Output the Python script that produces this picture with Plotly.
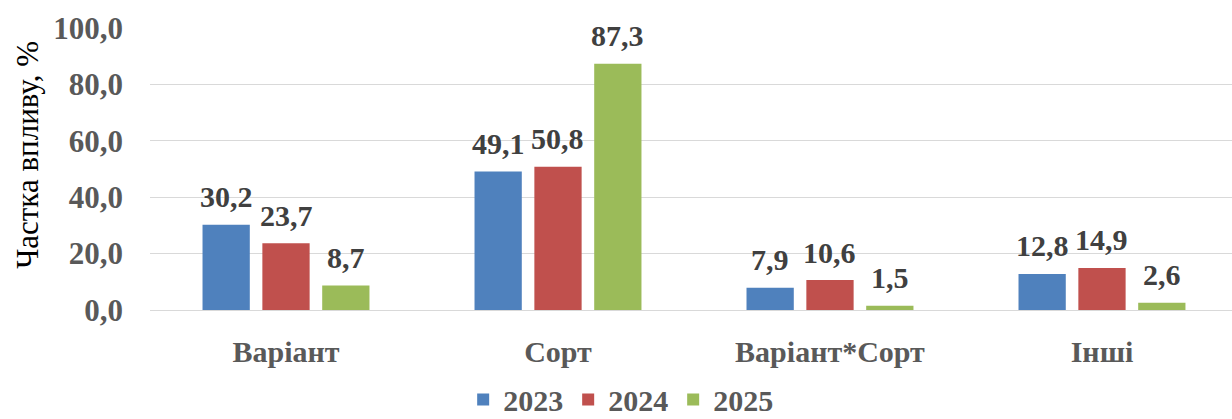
import plotly.graph_objects as go

# Частка впливу факторів за роками
categories = ["Варіант", "Сорт", "Варіант*Сорт", "Інші"]
years = ["2023", "2024", "2025"]
share_2023 = [30.2, 49.1, 7.9, 12.8]
share_2024 = [23.7, 50.8, 10.6, 14.9]
share_2025 = [8.7, 87.3, 1.5, 2.6]
y_ticks = [0, 20, 40, 60, 80, 100]

series = [share_2023, share_2024, share_2025]
colors = ["#4F81BD", "#C0504D", "#9BBB59"]

FONT = "Liberation Serif, Times New Roman, serif"
BARGAP = 0.34
x_pos = list(range(len(categories)))

fig = go.Figure()
for name, vals, col in zip(years, series, colors):
    fig.add_trace(go.Bar(
        x=x_pos, y=vals, name=name,
        marker=dict(color=col, line=dict(width=0)),
    ))

# value labels above each bar, placed at the bar's slot inside its group
slot = (1 - BARGAP) / len(series)
for i, vals in enumerate(series):
    off = (i - (len(series) - 1) / 2) * slot
    for xi, v in zip(x_pos, vals):
        fig.add_annotation(
            x=xi + off, y=v, xref="x", yref="y",
            text=f"<b>{v:.1f}</b>".replace(".", ","),
            showarrow=False, yanchor="middle", yshift=28,
            font=dict(family=FONT, size=30, color="#404040"),
        )

# vertical axis title
fig.add_annotation(
    text="Частка впливу, %", xref="paper", yref="paper",
    x=-0.1128, y=0.55, xanchor="center", yanchor="middle",
    textangle=-90, showarrow=False,
    font=dict(family=FONT, size=31, color="#000000"),
)

fig.update_layout(
    width=1232, height=419,
    margin=dict(l=150, r=0, t=28, b=109, autoexpand=False),
    paper_bgcolor="white", plot_bgcolor="white",
    barmode="group", bargap=BARGAP, bargroupgap=0.21,
    separators=", ",
    showlegend=True,
    legend=dict(
        orientation="h", xanchor="center", yanchor="middle",
        x=0.435, y=-0.317,
        font=dict(family=FONT, size=30, color="#595959", weight="bold"),
        itemwidth=30, traceorder="normal",
    ),
    xaxis=dict(
        range=[-0.5, 3.478], automargin=False,
        tickvals=x_pos, ticktext=categories,
        showgrid=False, showline=False, zeroline=False, ticks="",
        ticklabelstandoff=21,
        tickfont=dict(family=FONT, size=30, color="#595959", weight="bold"),
    ),
    yaxis=dict(
        range=[0, 100], tickvals=y_ticks, tickformat=".1f", automargin=False,
        showgrid=True, gridcolor="#D9D9D9", gridwidth=1,
        zeroline=True, zerolinecolor="#D9D9D9", zerolinewidth=1,
        showline=False, ticks="", ticklabelstandoff=26,
        tickfont=dict(family=FONT, size=31, color="#595959", weight="bold"),
    ),
)

fig.write_html("out.html")
